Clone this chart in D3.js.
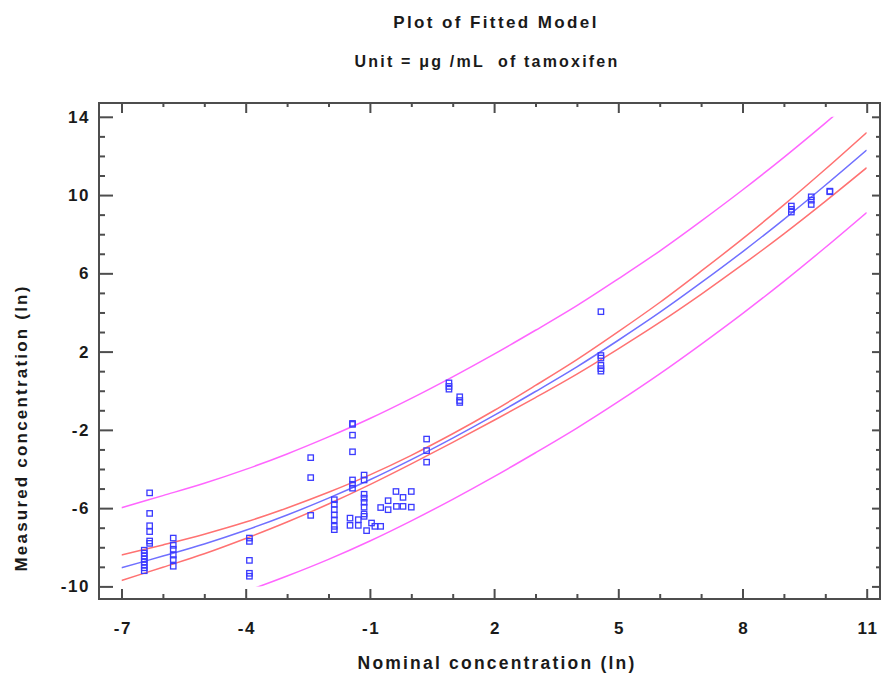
<!DOCTYPE html>
<html>
<head>
<meta charset="utf-8">
<script src="https://cdn.jsdelivr.net/npm/d3@7"></script>
<style>
  body { margin: 0; background: #fff; }
  svg text { font-family: "Liberation Sans", Arial, sans-serif; font-weight: bold; fill: #1a1a1a; }
</style>
</head>
<body>
<svg id="chart" width="881" height="673"></svg>
<script>
// values (ln units)
var xGrid = [-7, -6, -5, -4, -3, -2, -1, 0, 1, 2, 3, 4, 5, 6, 7, 8, 9, 10, 11];
var fitted = [-9.05, -8.45, -7.83, -7.13, -6.35, -5.49, -4.55, -3.52, -2.42, -1.26, -0.04, 1.22, 2.58, 4.00, 5.52, 7.10, 8.76, 10.50, 12.30];
var upperCL = [-8.40, -7.88, -7.33, -6.71, -5.99, -5.19, -4.30, -3.30, -2.20, -1.01, 0.27, 1.59, 3.02, 4.51, 6.11, 7.76, 9.50, 11.32, 13.20];
var lowerCL = [-9.70, -9.02, -8.33, -7.55, -6.71, -5.79, -4.80, -3.74, -2.64, -1.51, -0.35, 0.85, 2.14, 3.49, 4.93, 6.44, 8.02, 9.68, 11.40];
var upperPL = [-5.98, -5.36, -4.73, -4.02, -3.23, -2.36, -1.42, -0.39, 0.71, 1.87, 3.09, 4.35, 5.72, 7.14, 8.67, 10.26, 11.93, 13.68, 15.49];
var lowerPL = [-12.17, -11.57, -10.95, -10.25, -9.47, -8.62, -7.68, -6.65, -5.55, -4.39, -3.17, -1.91, -0.56, 0.86, 2.37, 3.94, 5.59, 7.32, 9.11];

var obsX = [
  -6.32, -6.32, -6.32, -6.32, -6.32, -6.32,
  -6.45, -6.45, -6.45, -6.45, -6.45, -6.45, -6.45, -6.45,
  -5.75, -5.75, -5.75, -5.75, -5.75, -5.75,
  -3.91, -3.91, -3.91, -3.91, -3.91,
  -2.43, -2.43, -2.43,
  -1.86, -1.86, -1.86, -1.86, -1.86, -1.86, -1.86,
  -1.42, -1.42, -1.42, -1.42, -1.42, -1.42, -1.42,
  -1.14, -1.14, -1.14, -1.14, -1.14, -1.14, -1.14, -1.14,
  -1.48, -1.48, -1.28, -1.28, -1.08, -0.96, -0.88, -0.74, -0.74, -0.56, -0.56, -0.37, -0.36, -0.20, -0.20, 0.00, 0.00,
  0.37, 0.37, 0.37,
  0.91, 0.91, 0.91,
  1.17, 1.17, 1.17,
  4.58, 4.58, 4.58, 4.58, 4.58, 4.58,
  9.18, 9.18, 9.18,
  9.66, 9.66, 9.66,
  10.11, 10.11
];
var obsY = [
  -5.22, -6.27, -6.90, -7.20, -7.68, -7.80,
  -8.15, -8.30, -8.45, -8.60, -8.75, -8.90, -9.05, -9.20,
  -7.53, -7.90, -8.10, -8.40, -8.63, -8.97,
  -7.53, -7.70, -8.67, -9.33, -9.48,
  -3.42, -4.44, -6.37,
  -5.57, -5.80, -6.08, -6.35, -6.60, -6.93, -7.10,
  -1.67, -1.72, -2.27, -3.12, -4.56, -4.78, -4.98,
  -4.31, -4.56, -5.29, -5.49, -5.70, -5.95, -6.30, -6.42,
  -6.51, -6.88, -6.59, -6.88, -7.15, -6.76, -6.93, -6.93, -5.97, -5.62, -6.08, -5.15, -5.91, -5.45, -5.91, -5.15, -5.95,
  -2.47, -3.06, -3.65,
  0.40, 0.22, 0.08,
  -0.31, -0.50, -0.60,
  4.04, 1.80, 1.67, 1.30, 1.13, 1.00,
  9.44, 9.27, 9.13,
  9.91, 9.74, 9.52,
  10.17, 10.20
];

var xMajor = [-7, -4, -1, 2, 5, 8, 11];
var yMajor = [-10, -6, -2, 2, 6, 10, 14];

(function(d3){
  "use strict";

  var box = {left: 99, right: 880, top: 103, bottom: 599};
  var svg = d3.select("#chart");

  var x = d3.scaleLinear().domain([-7, 11]).range([121.5, 866.7]);
  var y = d3.scaleLinear().domain([-10, 14]).range([586.4, 116.8]);

  var xMinor = d3.range(-7, 12).filter(function(v){ return xMajor.indexOf(v) < 0; });
  var yMinor = d3.range(-10, 15).filter(function(v){ return yMajor.indexOf(v) < 0; });

  // titles (the original renderer spaces its letters widely)
  svg.append("text").attr("x", 496).attr("y", 28)
    .attr("text-anchor", "middle").style("font-size", "17px")
    .style("letter-spacing", "2.4px")
    .text("Plot of Fitted Model");
  svg.append("text").attr("x", 487).attr("y", 67)
    .attr("text-anchor", "middle").style("font-size", "16px")
    .style("letter-spacing", "2.2px")
    .attr("xml:space", "preserve")
    .text("Unit = \u03bcg /mL  of tamoxifen");

  // curves, clipped to the fitted range like the original
  svg.append("clipPath").attr("id", "clip")
    .append("rect")
      .attr("x", x(-7)).attr("y", y(14))
      .attr("width", x(11) - x(-7)).attr("height", y(-10) - y(14));

  var curves = [
    {vals: upperPL, color: "#ff66ff"},
    {vals: lowerPL, color: "#ff66ff"},
    {vals: upperCL, color: "#ff7272"},
    {vals: lowerCL, color: "#ff7272"},
    {vals: fitted,  color: "#7070ff"}
  ];

  var line = d3.line()
    .x(function(d){ return x(d[0]); })
    .y(function(d){ return y(d[1]); })
    .curve(d3.curveCatmullRom);

  svg.append("g").attr("clip-path", "url(#clip)")
    .selectAll("path")
    .data(curves)
    .enter().append("path")
      .attr("fill", "none")
      .attr("stroke", function(d){ return d.color; })
      .attr("stroke-width", 1.5)
      .attr("d", function(d){ return line(d3.zip(xGrid, d.vals)); });

  // observations as open squares
  var pts = d3.zip(obsX, obsY);
  svg.append("g").selectAll("rect")
    .data(pts)
    .enter().append("rect")
      .attr("x", function(d){ return x(d[0]) - 2.7; })
      .attr("y", function(d){ return y(d[1]) - 2.7; })
      .attr("width", 5.4).attr("height", 5.4)
      .attr("fill", "none")
      .attr("stroke", "#3b3bff")
      .attr("stroke-width", 1.3);

  // axes: ticks point inwards on all four sides
  function axis(gen, scale, vals, size, pad, fmt, tx, ty){
    var a = gen(scale).tickValues(vals).tickSizeInner(-size).tickSizeOuter(0)
      .tickPadding(pad).tickFormat(fmt);
    var g = svg.append("g").attr("transform", "translate(" + tx + "," + ty + ")").call(a);
    g.select(".domain").remove();
    g.selectAll("line").attr("stroke", "#4d4d4d").attr("stroke-width", 2);
    g.selectAll("text").style("font-size", "17px").style("letter-spacing", "1.6px")
      .style("font-family", null).attr("fill", null);
    return g;
  }
  var noLabel = function(){ return ""; };
  var num = function(d){ return d; };

  var xa = axis(d3.axisBottom, x, xMajor, 10, 23, num, 0, box.bottom);
  xa.selectAll("text").attr("dx", "0.8px");
  axis(d3.axisBottom, x, xMinor, 5, 23, noLabel, 0, box.bottom);
  axis(d3.axisTop, x, xMajor, 10, 3, noLabel, 0, box.top);
  axis(d3.axisTop, x, xMinor, 4, 3, noLabel, 0, box.top);
  axis(d3.axisLeft, y, yMajor, 14, 9, num, box.left, 0);
  axis(d3.axisLeft, y, yMinor, 6, 9, noLabel, box.left, 0);
  axis(d3.axisRight, y, yMajor, 8, 3, noLabel, box.right, 0);
  axis(d3.axisRight, y, yMinor, 4, 3, noLabel, box.right, 0);

  svg.append("rect")
    .attr("x", box.left).attr("y", box.top)
    .attr("width", box.right - box.left).attr("height", box.bottom - box.top)
    .attr("fill", "none").attr("stroke", "#4d4d4d").attr("stroke-width", 2);

  svg.append("text").attr("x", 497).attr("y", 669)
    .attr("text-anchor", "middle").style("font-size", "17.5px")
    .style("letter-spacing", "2.2px")
    .text("Nominal concentration (ln)");
  svg.append("text")
    .attr("transform", "translate(27,428) rotate(-90)")
    .attr("text-anchor", "middle").style("font-size", "17px")
    .style("letter-spacing", "2.2px")
    .text("Measured concentration (ln)");
})(d3);
</script>
</body>
</html>
